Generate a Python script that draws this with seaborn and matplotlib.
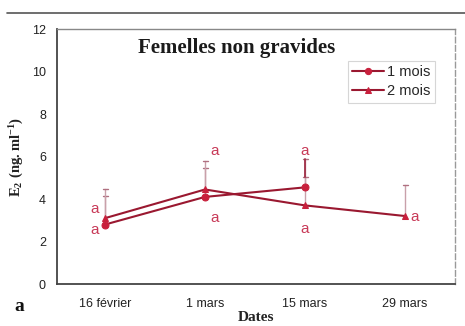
import matplotlib
matplotlib.use("Agg")
import matplotlib.pyplot as plt
import seaborn as sns
import pandas as pd
import numpy as np

# Sampling dates
dates = ["16 février", "1 mars", "15 mars", "29 mars"]

# E2 means and upper error limits per series
mois1_mean = [2.8, 4.1, 4.55]
mois1_upper = [4.15, 5.45, 5.9]
mois2_mean = [3.1, 4.45, 3.7, 3.2]
mois2_upper = [4.45, 5.8, 5.05, 4.65]

# Significance letters: (date index, y position)
letters_x = [0, 0, 1, 1, 2, 2, 3]
letters_y = [2.55, 3.55, 6.25, 3.1, 6.25, 2.6, 3.15]
letters_dx = [-0.1, -0.1, 0.1, 0.1, 0.0, 0.0, 0.1]

sns.set_theme(style="white")
plt.rcParams["font.family"] = ["Liberation Sans", "DejaVu Sans"]
plt.rcParams["mathtext.fontset"] = "custom"
plt.rcParams["mathtext.rm"] = "Liberation Serif"
plt.rcParams["mathtext.bf"] = "Liberation Serif:bold"

red = "#c8203c"
dark = "#9a1830"

df = pd.concat([
    pd.DataFrame({"Dates": dates[:len(mois1_mean)], "E2": mois1_mean, "serie": "1 mois"}),
    pd.DataFrame({"Dates": dates[:len(mois2_mean)], "E2": mois2_mean, "serie": "2 mois"}),
])
df["Dates"] = pd.Categorical(df["Dates"], categories=dates, ordered=True)

fig = plt.figure(figsize=(4.65, 3.26), dpi=100)
ax = fig.add_axes([0.1226, 0.1288, 0.856, 0.782])

# Upper-only error bars
for means, uppers in [(mois1_mean, mois1_upper), (mois2_mean, mois2_upper)]:
    for i, (m, u) in enumerate(zip(means, uppers)):
        ax.plot([i, i], [m, u], color="#c9a0aa", lw=1.0, zorder=2)
        ax.plot([i - 0.025, i + 0.025], [u, u], color="#b07080", lw=1.0, zorder=2)
ax.plot([2, 2], [5.05, 5.9], color="#a03048", lw=1.3, zorder=2)

sns.lineplot(data=df, x="Dates", y="E2", hue="serie", style="serie",
             markers={"1 mois": "o", "2 mois": "^"}, dashes=False,
             palette={"1 mois": dark, "2 mois": dark}, markersize=5,
             markerfacecolor=red, markeredgecolor=red, linewidth=1.5,
             sort=False, ax=ax, zorder=3)

for xi, yi, dx in zip(letters_x, letters_y, letters_dx):
    ax.text(xi + dx, yi, "a", color="#c83a58", fontsize=11, ha="center", va="center")

ax.set_xlim(-0.48, 3.5)
ax.set_ylim(0, 12)
ax.set_yticks(range(0, 13, 2))
ax.set_xticks(range(len(dates)))
ax.set_xticklabels(dates)
ax.tick_params(axis="both", labelsize=9, colors="#222222", length=0, pad=10)
ax.tick_params(axis="y", length=3, direction="out", color="#555555", pad=5)

ax.set_xlabel("Dates", family="Liberation Serif", fontweight="bold", fontsize=11,
              color="#222222", labelpad=1)
ax.set_ylabel(r"$\mathbf{E_2}$ $\mathbf{(ng{.}ml^{-1})}$", fontsize=10.5, color="#222222")
ax.yaxis.set_label_coords(-0.078, 0.5)

for s in ["left", "bottom"]:
    ax.spines[s].set_color("#444444")
    ax.spines[s].set_linewidth(1.3)
ax.spines["top"].set_color("#888888")
ax.spines["top"].set_linewidth(1.0)
ax.spines["right"].set_color("#999999")
ax.spines["right"].set_linewidth(1.0)
ax.spines["right"].set_linestyle((0, (4, 2)))

ax.text(0.452, 0.925, "Femelles non gravides", transform=ax.transAxes, ha="center",
        va="center", family="Liberation Serif", fontweight="bold", fontsize=15,
        color="#1a1a1a")

leg = ax.legend(loc="upper right", bbox_to_anchor=(0.95, 0.875), fontsize=10.5,
                frameon=True, handlelength=2.2, handletextpad=0.2, borderpad=0.3,
                labelspacing=0.35, borderaxespad=0.0)
leg.get_frame().set_edgecolor("#cccccc")
leg.get_frame().set_linewidth(0.8)
leg.get_frame().set_boxstyle("square", pad=0)
for h in leg.legend_handles:
    h.set_markerfacecolor(red)
    h.set_markeredgecolor(red)
    h.set_markersize(4.5)

# Panel letter and header rule
fig.text(0.03, 0.06, "a", family="Liberation Serif", fontweight="bold", fontsize=14,
         color="#111111", ha="left", va="center")
fig.add_artist(plt.Line2D([0.015, 1.0], [0.96, 0.96], transform=fig.transFigure,
                          color="#555555", lw=1.2))

fig.savefig("out.png", dpi=100, facecolor="white")
